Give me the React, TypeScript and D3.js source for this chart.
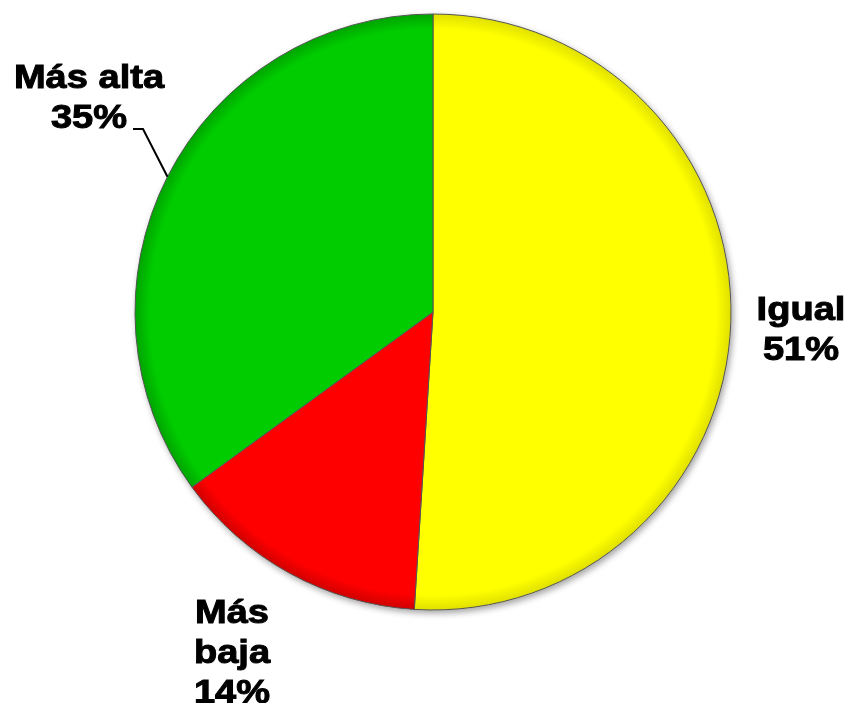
import { useEffect, useRef } from 'react';
import * as d3 from 'd3';

// Chart data
const categories = ['Igual', 'Más baja', 'Más alta'];
const values = [51, 14, 35];
const colors = ['#ffff00', '#ff0000', '#00cc00'];
const edgeColors = ['#e0e000', '#d00000', '#00a400'];

const App = () => {
  const svgRef = useRef<SVGSVGElement | null>(null);

  useEffect(() => {
    const width = 852;
    const height = 711;
    const cx = 433;
    const cy = 312;
    const radius = 298;

    const svg = d3.select(svgRef.current)
      .attr('width', width)
      .attr('height', height)
      .style('display', 'block')
      .style('background', '#fff');
    svg.selectAll('*').remove();

    const defs = svg.append('defs');
    // soft shading towards the rim of each slice (coords are in the translated group)
    colors.forEach((c, i) => {
      const grad = defs.append('radialGradient')
        .attr('id', `grad${i}`)
        .attr('gradientUnits', 'userSpaceOnUse')
        .attr('cx', 0).attr('cy', 0).attr('r', radius);
      grad.append('stop').attr('offset', '0.95').attr('stop-color', c);
      grad.append('stop').attr('offset', '1').attr('stop-color', edgeColors[i]);
    });
    const shadow = defs.append('filter').attr('id', 'shadow')
      .attr('x', '-10%').attr('y', '-10%').attr('width', '120%').attr('height', '120%');
    shadow.append('feDropShadow')
      .attr('dx', 2).attr('dy', 3).attr('stdDeviation', 3)
      .attr('flood-color', '#000').attr('flood-opacity', 0.35);

    const pie = d3.pie<number>().sort(null).value(d => d);
    const arcs = pie(values);
    const arc = d3.arc<d3.PieArcDatum<number>>().innerRadius(0).outerRadius(radius);

    const g = svg.append('g').attr('transform', `translate(${cx},${cy})`);
    g.append('g').attr('filter', 'url(#shadow)')
      .selectAll('path')
      .data(arcs)
      .join('path')
      .attr('d', arc)
      .attr('fill', (d, i) => `url(#grad${i})`)
      .attr('stroke', '#555')
      .attr('stroke-width', 1);

    // labels
    const fontSize = 34;
    const lineGap = 40;
    const labelPos = [
      { x: 801, y: 320, lines: ['Igual', `${values[0]}%`] },
      { x: 232, y: 623, lines: ['Más', 'baja', `${values[1]}%`] },
      { x: 89, y: 88, lines: ['Más alta', `${values[2]}%`] },
    ];

    // leader line for "Más alta"
    const a = (arcs[2].startAngle + arcs[2].endAngle) / 2;
    const ex = cx + radius * Math.sin(a);
    const ey = cy - radius * Math.cos(a);
    svg.append('path')
      .attr('d', d3.line()([[ex, ey], [143, 129], [133, 129]]))
      .attr('fill', 'none')
      .attr('stroke', '#000')
      .attr('stroke-width', 2);

    labelPos.forEach((lp, i) => {
      const t = svg.append('text')
        .attr('transform', `translate(${lp.x},${lp.y}) scale(1.12,1)`)
        .attr('text-anchor', 'middle')
        .attr('font-family', 'Liberation Sans, Arial, sans-serif')
        .attr('font-weight', 'bold')
        .attr('font-size', fontSize)
        .attr('fill', '#000')
        .attr('stroke', '#000')
        .attr('stroke-width', 1)
        .style('filter', 'drop-shadow(0 0 1.5px #fff)')
        .attr('aria-label', categories[i]);
      lp.lines.forEach((ln, j) => {
        t.append('tspan')
          .attr('x', 0)
          .attr('dy', j === 0 ? 0 : lineGap)
          .text(ln);
      });
    });
  }, []);

  return (
    <div style={{ margin: -8 }}>
      <svg ref={svgRef}></svg>
    </div>
  );
};

export default App;
